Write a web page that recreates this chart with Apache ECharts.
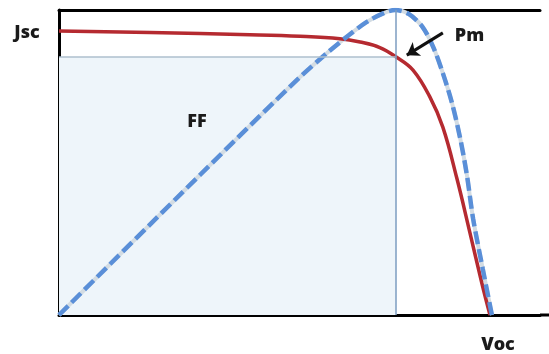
<!DOCTYPE html>
<html>
<head>
<meta charset="utf-8">
<script src="https://cdn.jsdelivr.net/npm/echarts@6/dist/echarts.min.js"></script>
<style>
  html, body { margin: 0; padding: 0; background: #ffffff; }
  #chart { width: 549px; height: 354px; }
</style>
</head>
<body>
<div id="chart"></div>
<script>
// J–V curve of a solar cell (voltage and current density, both on a 0–100 scale)
const jvVoltage = [0, 18.9, 39.7, 50.1, 58.4, 62.6, 66.7, 70.1, 73.6, 77.1, 79.8, 82.7, 85.4, 87.9, 89.6];
const jvCurrent = [93.1, 92.6, 91.9, 91.4, 90.6, 89.5, 87.7, 84.6, 80.3, 71.5, 61.6, 44.9, 27.2, 10.5, 0];

// P–V curve, scaled so that the maximum power point touches the top of the frame
const pvVoltage = [0, 29.3, 50.1, 56.1, 60.3, 64.0, 67.4, 69.9, 72.7, 75.6, 77.9, 79.8, 81.7, 83.4, 84.8, 86.1, 88.1, 90.0];
const pvPower   = [0, 45.9, 78.0, 86.4, 91.8, 96.1, 98.9, 100, 98.7, 94.4, 87.5, 79.3, 69.5, 58.0, 45.9, 31.5, 15.1, 0];

// maximum power point (Vmp, Jmp) and the Pm pointer (tail -> tip)
const pmPoint = [70.1, 84.6];
const pmArrow = [[79.8, 92.5], [72.3, 85.2]];

// text labels
const labelJsc = 'Jsc';
const labelVoc = 'Voc';
const labelPm = 'Pm';
const labelFF = 'FF';

const zip = (xs, ys) => xs.map((x, i) => [x, ys[i]]);

const chart = echarts.init(document.getElementById('chart'), null, { renderer: 'canvas' });

const bold = { fontFamily: 'Open Sans', fontWeight: 800, fontSize: 18, fill: '#1a1a1a' };
const textEl = (id, text, x, y, align) => ({
  type: 'text', id: id, x: x, y: y, z: 100,
  style: Object.assign({ text: text, align: align, verticalAlign: 'middle' }, bold)
});

chart.setOption({
  animation: false,
  backgroundColor: '#ffffff',
  grid: { left: 59, right: 9, top: 10, bottom: 39 },
  xAxis: [
    {
      type: 'value', min: 0, max: 100, position: 'bottom',
      axisLine: { show: true, lineStyle: { color: '#000', width: 3 } },
      axisTick: { show: false }, axisLabel: { show: false }, splitLine: { show: false }
    },
    {
      type: 'value', min: 0, max: 100, position: 'top',
      axisLine: { show: true, lineStyle: { color: '#000', width: 3 } },
      axisTick: { show: false }, axisLabel: { show: false }, splitLine: { show: false }
    }
  ],
  yAxis: {
    type: 'value', min: 0, max: 100,
    axisLine: { show: true, lineStyle: { color: '#000', width: 3 } },
    axisTick: { show: false }, axisLabel: { show: false }, splitLine: { show: false }
  },
  series: [
    {
      // FF rectangle under the maximum power point, with its guide lines
      type: 'line',
      data: [],
      z: 1,
      markArea: {
        silent: true,
        label: { show: false },
        itemStyle: { color: '#eef5fa' },
        data: [[{ coord: [0, 0] }, { coord: pmPoint }]]
      },
      markLine: {
        silent: true,
        symbol: ['none', 'none'],
        label: { show: false },
        data: [
          [{ coord: [0, pmPoint[1]], lineStyle: { color: '#aebfce', width: 1.5, type: 'solid' } },
           { coord: pmPoint }],
          [{ coord: [pmPoint[0], 0], lineStyle: { color: '#7d9cc0', width: 1.5, type: 'solid' } },
           { coord: [pmPoint[0], 100] }]
        ]
      }
    },
    {
      // pale trace showing between the dashes of the P–V curve
      type: 'line',
      data: zip(pvVoltage, pvPower),
      smooth: 0.3,
      showSymbol: false,
      z: 2,
      lineStyle: { color: '#d3dce3', width: 4 }
    },
    {
      name: 'J',
      type: 'line',
      data: zip(jvVoltage, jvCurrent),
      smooth: 0.4,
      showSymbol: false,
      z: 3,
      lineStyle: { color: '#b52a30', width: 3.5 },
      markLine: {
        silent: true,
        symbol: ['none', 'arrow'],
        symbolSize: 12,
        label: { show: false },
        lineStyle: { color: '#111', width: 3, type: 'solid' },
        data: [[{ coord: pmArrow[0] }, { coord: pmArrow[1] }]]
      }
    },
    {
      name: 'P',
      type: 'line',
      data: zip(pvVoltage, pvPower),
      smooth: 0.3,
      showSymbol: false,
      z: 4,
      lineStyle: { color: '#5a8fd8', width: 4.5, type: [13, 5] }
    }
  ]
});

// axis captions and annotations
const at = (v, j) => chart.convertToPixel({ gridIndex: 0 }, [v, j]);
const origin = at(0, 0);
const right = at(100, 0);
const jscPx = at(0, jvCurrent[0]);
const vocPx = at(jvVoltage[jvVoltage.length - 1], 0);
const tailPx = at(pmArrow[0][0], pmArrow[0][1]);

chart.setOption({
  graphic: [
    { type: 'line', id: 'axisTail', z: 100,
      shape: { x1: right[0], y1: right[1], x2: 549, y2: right[1] },
      style: { stroke: '#000', lineWidth: 3 } },
    textEl('jsc', labelJsc, origin[0] - 32, jscPx[1] + 2, 'center'),
    textEl('voc', labelVoc, vocPx[0] + 8, 345, 'center'),
    textEl('pm', labelPm, tailPx[0] + 12, tailPx[1] + 3, 'left'),
    textEl('ff', labelFF, 197, 122, 'center')
  ]
});
</script>
</body>
</html>
